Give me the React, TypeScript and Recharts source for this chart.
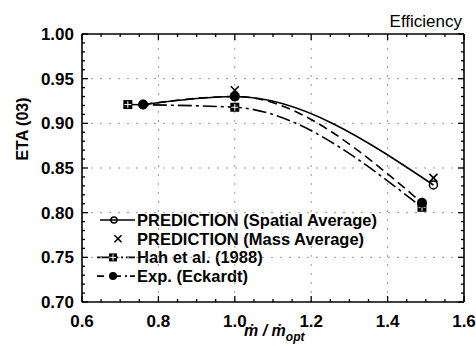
import React from "react";
import { LineChart, Line, XAxis, YAxis, ReferenceLine, Customized } from "recharts";

// Axis ranges and tick values
const xDomain: [number, number] = [0.6, 1.6];
const yDomain: [number, number] = [0.7, 1.0];
const xMajorTicks = [0.6, 0.8, 1.0, 1.2, 1.4, 1.6];
const yMajorTicks = [0.7, 0.75, 0.8, 0.85, 0.9, 0.95, 1.0];
const xGridValues = [0.8, 1.0, 1.2, 1.4];
const yGridValues = [0.75, 0.8, 0.85, 0.9, 0.95];

// Series: mass flow ratio (x) vs. efficiency (eta)
const spatialAverage = [
  { x: 0.76, eta: 0.921 },
  { x: 1.0, eta: 0.930 },
  { x: 1.52, eta: 0.831 },
];
const massAverage = [
  { x: 1.0, eta: 0.937 },
  { x: 1.52, eta: 0.839 },
];
const hah1988 = [
  { x: 0.72, eta: 0.921 },
  { x: 1.0, eta: 0.918 },
  { x: 1.49, eta: 0.806 },
];
const eckardt = [
  { x: 0.76, eta: 0.921 },
  { x: 1.0, eta: 0.930 },
  { x: 1.49, eta: 0.811 },
];

// Minor tick positions (every 0.05 on x, every 0.01 on y)
const xAllTicks = Array.from({ length: 21 }, (_, i) => Math.round((0.6 + i * 0.05) * 100) / 100);
const yAllTicks = Array.from({ length: 31 }, (_, i) => Math.round((0.7 + i * 0.01) * 100) / 100);

const FONT = "'Liberation Sans', Arial, Helvetica, sans-serif";
const isMajorX = (v: number) => xMajorTicks.some((t) => Math.abs(t - v) < 1e-6);
const isMajorY = (v: number) => yMajorTicks.some((t) => Math.abs(t - v) < 1e-6);

const BottomTick = (p: any) => {
  const { x, y, payload } = p;
  const v = payload.value as number;
  const major = isMajorX(v);
  return (
    <g>
      <line x1={x} x2={x} y1={y} y2={y - (major ? 6 : 3)} stroke="#000" strokeWidth={1.3} />
      {major && (
        <text x={x} y={y + 25} textAnchor="middle" fontFamily={FONT} fontSize={17} fontWeight="bold" fill="#000">
          {v.toFixed(1)}
        </text>
      )}
    </g>
  );
};

const TopTick = (p: any) => {
  const { x, y, payload } = p;
  const major = isMajorX(payload.value);
  return <line x1={x} x2={x} y1={y} y2={y + (major ? 6 : 3)} stroke="#000" strokeWidth={1.3} />;
};

const LeftTick = (p: any) => {
  const { x, y, payload } = p;
  const v = payload.value as number;
  const major = isMajorY(v);
  return (
    <g>
      <line x1={x} x2={x + (major ? 6 : 3)} y1={y} y2={y} stroke="#000" strokeWidth={1.3} />
      {major && (
        <text x={x - 8} y={y + 6} textAnchor="end" fontFamily={FONT} fontSize={17} fontWeight="bold" fill="#000">
          {v.toFixed(2)}
        </text>
      )}
    </g>
  );
};

const RightTick = (p: any) => {
  const { x, y, payload } = p;
  const major = isMajorY(payload.value);
  return <line x1={x} x2={x - (major ? 6 : 3)} y1={y} y2={y} stroke="#000" strokeWidth={1.3} />;
};

// Marker shapes
const OpenCircle = ({ cx, cy, r = 4 }: any) => (
  <circle cx={cx} cy={cy} r={r} fill="none" stroke="#000" strokeWidth={1.5} />
);
const Cross = ({ cx, cy, s = 4 }: any) => (
  <g stroke="#000" strokeWidth={1.6}>
    <line x1={cx - s} y1={cy - s} x2={cx + s} y2={cy + s} />
    <line x1={cx - s} y1={cy + s} x2={cx + s} y2={cy - s} />
  </g>
);
const GridSquare = ({ cx, cy, s = 4.5 }: any) => (
  <g>
    <rect x={cx - s} y={cy - s} width={2 * s} height={2 * s} fill="#000" />
    <line x1={cx - s + 1} x2={cx + s - 1} y1={cy} y2={cy} stroke="#fff" strokeWidth={1} />
    <line x1={cx} x2={cx} y1={cy - s + 1} y2={cy + s - 1} stroke="#fff" strokeWidth={1} />
  </g>
);
const FilledCircle = ({ cx, cy, r = 5 }: any) => <circle cx={cx} cy={cy} r={r} fill="#000" />;

const dotOf = (Shape: any) => (p: any) => <Shape key={`d-${p.index}`} cx={p.cx} cy={p.cy} />;

const legendRows = [
  { label: "PREDICTION (Spatial Average)", kind: "spatial" },
  { label: "PREDICTION (Mass Average)", kind: "mass" },
  { label: "Hah et al. (1988)", kind: "hah" },
  { label: "Exp. (Eckardt)", kind: "exp" },
];

const Annotations = () => {
  const textX = 137;
  const base = 226;
  const step = 18.7;
  return (
    <g>
      <text x={462} y={27} textAnchor="end" fontFamily={FONT} fontSize={17} fill="#000">
        Efficiency
      </text>
      <text
        transform="translate(28,129) rotate(-90)"
        textAnchor="middle"
        fontFamily={FONT}
        fontSize={16}
        fontWeight="bold"
        fill="#000"
      >
        ETA (03)
      </text>
      <text x={244} y={336} fontFamily={FONT} fontSize={16} fontWeight="bold" fontStyle="italic" fill="#000">
        {"ṁ / ṁ"}
        <tspan dy={5} fontSize={12}>
          opt
        </tspan>
      </text>
      {legendRows.map((row, i) => {
        const by = base + i * step;
        const cy = by - 6;
        let sym: any = null;
        if (row.kind === "spatial") {
          sym = (
            <g>
              <line x1={100} x2={135} y1={cy} y2={cy} stroke="#000" strokeWidth={1.6} />
              <OpenCircle cx={114} cy={cy} r={3} />
            </g>
          );
        } else if (row.kind === "mass") {
          sym = <Cross cx={118} cy={cy} s={3.5} />;
        } else if (row.kind === "hah") {
          sym = (
            <g>
              <line x1={97} x2={135} y1={cy} y2={cy} stroke="#000" strokeWidth={1.6} strokeDasharray="14 3 4 3 2 3" />
              <GridSquare cx={113} cy={cy} s={4} />
            </g>
          );
        } else {
          sym = (
            <g>
              <line x1={97} x2={135} y1={cy} y2={cy} stroke="#000" strokeWidth={1.6} strokeDasharray="7 5 12 4 2 3" />
              <FilledCircle cx={113} cy={cy} r={4} />
            </g>
          );
        }
        return (
          <g key={row.kind}>
            {sym}
            <text x={textX} y={by} fontFamily={FONT} fontSize={16.5} fontWeight="bold" fill="#000">
              {row.label}
            </text>
          </g>
        );
      })}
    </g>
  );
};

const axisLineStyle = { stroke: "#000", strokeWidth: 1.6 };

export default function App() {
  return (
    <div style={{ position: "absolute", left: 0, top: 0, background: "#fff" }}>
      <LineChart width={476} height={346} margin={{ top: 33, right: 11, bottom: 43, left: 81 }}>
        <XAxis
          type="number"
          dataKey="x"
          domain={xDomain}
          ticks={xAllTicks}
          interval={0}
          allowDataOverflow
          height={1}
          tickSize={0}
          tickMargin={0}
          tick={BottomTick}
          axisLine={axisLineStyle}
          tickLine={false}
        />
        <XAxis
          xAxisId="top"
          orientation="top"
          type="number"
          dataKey="x"
          domain={xDomain}
          ticks={xAllTicks}
          interval={0}
          allowDataOverflow
          height={1}
          tickSize={0}
          tickMargin={0}
          tick={TopTick}
          axisLine={axisLineStyle}
          tickLine={false}
        />
        <YAxis
          type="number"
          domain={yDomain}
          ticks={yAllTicks}
          interval={0}
          allowDataOverflow
          width={1}
          tickSize={0}
          tickMargin={0}
          tick={LeftTick}
          axisLine={axisLineStyle}
          tickLine={false}
        />
        <YAxis
          yAxisId="right"
          orientation="right"
          type="number"
          domain={yDomain}
          ticks={yAllTicks}
          interval={0}
          allowDataOverflow
          width={1}
          tickSize={0}
          tickMargin={0}
          tick={RightTick}
          axisLine={axisLineStyle}
          tickLine={false}
        />
        {xGridValues.map((v) => (
          <ReferenceLine key={`gx-${v}`} x={v} stroke="#999" strokeWidth={1} strokeDasharray="2 7" />
        ))}
        {yGridValues.map((v) => (
          <ReferenceLine key={`gy-${v}`} y={v} stroke="#999" strokeWidth={1} strokeDasharray="2 7" />
        ))}
        <Line
          data={hah1988}
          dataKey="eta"
          type="monotone"
          stroke="#000"
          strokeWidth={1.6}
          strokeDasharray="14 4 3 4"
          dot={dotOf(GridSquare)}
          isAnimationActive={false}
        />
        <Line
          data={eckardt}
          dataKey="eta"
          type="monotone"
          stroke="#000"
          strokeWidth={1.6}
          strokeDasharray="9 5"
          dot={dotOf(FilledCircle)}
          isAnimationActive={false}
        />
        <Line
          data={spatialAverage}
          dataKey="eta"
          type="monotone"
          stroke="#000"
          strokeWidth={1.6}
          dot={dotOf(OpenCircle)}
          isAnimationActive={false}
        />
        <Line
          data={massAverage}
          dataKey="eta"
          type="linear"
          stroke="none"
          dot={dotOf(Cross)}
          isAnimationActive={false}
        />
        <Customized component={Annotations} />
      </LineChart>
    </div>
  );
}
